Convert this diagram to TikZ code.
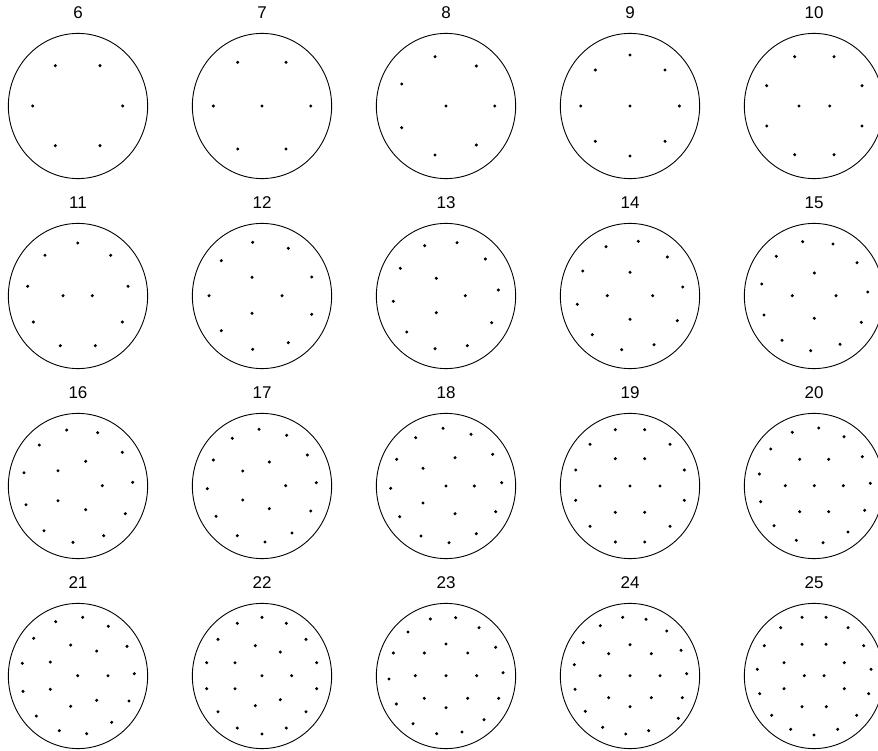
\documentclass[tikz,border=0pt]{standalone}
\usepackage{fontspec}
\setmainfont{Liberation Sans}
\usetikzlibrary{shapes.geometric}
\tikzset{
  ring/.style={draw, ellipse, line width=0.9pt, minimum width=139.3pt, minimum height=145.2pt, inner sep=0pt},
  ttl/.style={anchor=base, inner sep=0pt, font=\fontsize{17}{17}\selectfont},
  pt/.style={fill=black}
}
\begin{document}
\begin{tikzpicture}[x=1pt, y=-1pt]
\useasboundingbox (0,0) rectangle (878,751);
\clip (0,0) rectangle (878,751);
\foreach \n/\cx/\cy in {6/78/106,7/262/106,8/446/106,9/630/106,10/814/106,
  11/78/296,12/262/296,13/446/296,14/630/296,15/814/296,
  16/78/486,17/262/486,18/446/486,19/630/486,20/814/486,
  21/78/676,22/262/676,23/446/676,24/630/676,25/814/676}{
  \node[ring] (c\n) at (\cx,\cy) {};
  \node[ttl] (t\n) at (\cx,\cy-87.7) {\n};
}
\foreach \p in {
(55.3,65.7),(100,65.7),(32.7,106),(122.7,106),(55.3,145.7),(100,145.7),
(237.7,62.3),(286,62.3),(213.3,106),(262,106),(310.7,106),(237.7,149),(286,149),
(435,56.7),(476.3,66),(401.7,84),(446,106),(494.7,106),(401.7,127.7),(476.3,145),(435,155),
(630,55),(595.3,70),(665,70),(580.7,106),(630,106),(679.3,106),(595.3,141.3),(665,141.3),(630,156),
(794.7,56.7),(834,56.7),(766.7,85.7),(862,85.7),(799,106),(829.7,106),(766.7,126),(862,126),(794.7,154.7),(834,154.7),
(77.7,243),(45,255.3),(110.7,255.3),(27.7,286.3),(128,286.3),(63,295.7),(92.3,295.7),(33.3,322),(122.3,322),(60.3,345.7),(95.3,345.7),
(252.7,242.3),(288.3,248.3),(221.3,260.7),(252,277.3),(311.7,277),(209,295.7),(282,295.7),(252,313.3),(311.7,314.3),(221.3,330.7),(288.3,342.7),(252.7,349.3),
(424.7,245.7),(457,242.7),(485.3,259),(400.3,268.3),(436.3,278.3),(465.3,295.7),(498.3,290),(393.3,301.3),(436.3,312.7),(491.7,322.7),(406.7,332),(435,348.7),(467.3,345.7),
(606,246.7),(638.3,241.3),(667.3,257),(582.7,271),(630,272.3),(682.7,287),(607.3,295.7),(652.7,295.7),(577.3,304.3),(630,319.3),(677.3,320.7),(592.3,334.7),(621.7,349.7),(654,344.7),
(802.7,241.7),(833,244),(776.3,256.3),(857,262.7),(814.3,273),(761.7,284),(792.3,295.7),(836,295.7),(867.7,292),(764,315),(814.3,318.3),(861.3,322.3),(782,340.3),(840,344.3),(810.7,350.7),
(66.7,430),(97.7,432.7),(39.3,445),(122.3,452.3),(85.7,461.3),(24,472.7),(58,470.7),(132.7,482.3),(102.3,485.7),(26,504.7),(58,500.7),(85.7,509.7),(125.3,513.7),(44,530.7),(103.7,535.7),(73,542.3),
(259,429.3),(232.3,438.3),(286.7,435.3),(213.3,460),(307.3,455),(269.3,462),(242.7,471),(316.3,482.7),(207.3,488.7),(285.7,485.7),(242.7,500),(216,516.3),(269.3,508.7),(310.7,511),(237.3,535.7),(292,533),(265,542),
(443,428.3),(415.7,437.7),(471,434.3),(396.7,459.3),(492.7,454.3),(455,457.7),(423,468.3),(390.7,488.3),(446,486),(474.3,486),(501.7,482.7),(423,503),(455,513.7),(399.7,516.7),(495.7,511.7),(421,536),(476.3,533.7),(449,542.7),
(615.3,429.7),(644.7,429.7),(590,444.3),(670,444.3),(615.3,458.7),(644.7,458.7),(575.7,470),(684.3,470),(600,486),(630,486),(660,486),(575.7,500.3),(684.3,500.3),(615.3,512.3),(644.7,512.3),(590,526.3),(670,526.3),(615.3,542),(644.7,542),
(818.7,428),(792.3,432.3),(844,436.7),(770.7,449),(799.7,459.3),(828.7,459.3),(862.3,456.7),(759.3,474),(785.3,485.7),(814.3,485.7),(843.3,485.7),(870.3,483.3),(760.7,501.7),(799.7,511.7),(828.7,511.7),(864.7,510.3),(774,525.7),(848,532),(796.3,540.3),(823,542.7),
(82.7,617.3),(55.7,621.7),(108.3,626.3),(33.7,638.3),(70.7,645),(96.7,651),(127,646.3),(22.3,663.3),(50.3,662),(77.7,675.7),(108,675.7),(134.3,673.7),(23,691.3),(50.3,689.3),(96.7,700.3),(70.7,706.3),(129,701),(36.3,716),(111.7,722.3),(59.3,730.7),(86.7,733.7),
(262,617.3),(237.3,623.3),(286.3,623.3),(218,639.3),(306,639.3),(255.3,645.7),(280.3,652),(206.7,662.7),(235,662.7),(316.7,662.7),(262,675.7),(291.7,675.7),(206.7,688.7),(235,688.7),(316.7,688.7),(280.3,699.7),(255.3,705.7),(218,711.7),(306,711.7),(237.3,728),(286.3,728),(262,734),
(430.3,619),(455.7,617.7),(479,627.7),(408,632),(446,644),(495.7,647.3),(393.3,653),(424.3,653),(467.7,653),(503,672.7),(389,679),(415.3,675.7),(446,675.7),(476.7,675.7),(396.3,704),(424.3,698.3),(467.7,698.3),(498.7,698.3),(446,707.7),(413,723.7),(484,719.7),(436.7,733.7),(462,732),
(622.7,617.3),(646,619.3),(600.3,625.7),(666.7,631),(583.3,642.7),(630,644.7),(681,650.3),(608.7,653.7),(651.3,653.7),(574.3,664.7),(686.7,673.7),(600,675.7),(630,675.7),(660,675.7),(575,689.3),(608.7,697.7),(651.3,697.7),(682.3,697.7),(630,706.7),(585.3,711.3),(678.3,718.3),(602.7,727.3),(648.7,730.7),(625.7,734),
(802,617.3),(826,617.3),(780.7,627.7),(848,627.7),(764.3,645.7),(802,644.3),(826,644.3),(863.7,645.7),(784,662.7),(844.3,662.7),(757.3,669.3),(871,669.3),(804.3,675.7),(824,675.7),(759.7,693.7),(784,688.7),(844.3,688.7),(868.7,693.7),(802,706.7),(826.3,706.7),(771.7,715.3),(856.7,715.3),(790.7,729.3),(837.7,729.3),(814,735)
}{
  \fill[pt] \p circle (1.7);
}
\end{tikzpicture}
\end{document}
